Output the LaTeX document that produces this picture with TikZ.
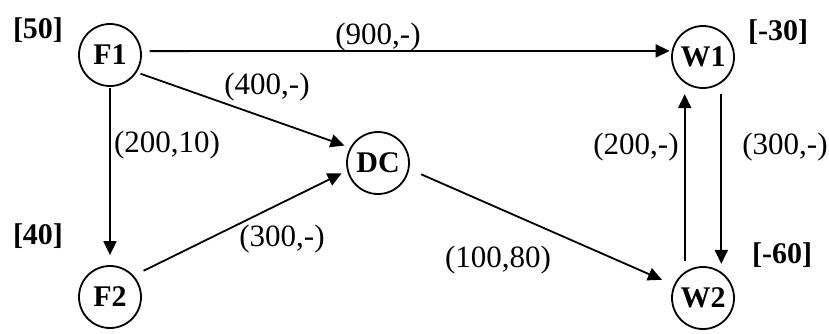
\documentclass[tikz,border=0pt]{standalone}
\usepackage{fontspec}
\setmainfont{Liberation Serif}
\usetikzlibrary{arrows.meta}
\begin{document}
\begin{tikzpicture}[x=1pt,y=-1pt,
  site/.style={circle,draw,line width=1.8pt,minimum size=62pt,inner sep=0pt,
    font=\fontsize{30}{30}\selectfont\bfseries},
  supply/.style={font=\fontsize{30}{30}\selectfont\bfseries},
  cost/.style={font=\fontsize{31}{31}\selectfont},
  flow/.style={line width=1.8pt,-{Triangle[length=14pt,width=13pt]}}]
\useasboundingbox (0,0) rectangle (829,333);

% facilities, distribution centre and warehouses
\node[site] (F1) at (110,55) {F1};
\node[site] (F2) at (110,297) {F2};
\node[site] (DC) at (378,163) {DC};
\node[site] (W1) at (703,57) {W1};
\node[site] (W2) at (703,298) {W2};

% supply / demand
\node[supply] (s1) at (38,30) {[50]};
\node[supply] (s2) at (38,236) {[40]};
\node[supply] (d1) at (778,32) {[-30]};
\node[supply] (d2) at (782,255) {[-60]};

% arcs
\draw[flow,shorten <=8pt,shorten >=2pt] (F1.7) -- (W1.169);
\draw[flow,shorten <=4pt,shorten >=6pt] (F1.-33) -- (DC.151);
\draw[flow,shorten <=1pt,shorten >=10pt] (F1.south) -- (F2.north);
\draw[flow,shorten <=11pt,shorten >=6pt] (F2.42) -- (DC.194);
\draw[flow,shorten <=13pt,shorten >=13pt] (DC.-11) -- (W2.156);
\draw[flow,shorten <=11pt,shorten >=11pt] (W2.125) -- (W1.235);
\draw[flow,shorten <=11pt,shorten >=8pt] (W1.305) -- (W2.55);

% arc labels (cost, capacity)
\node[cost] (c1) at (378,37) {(900,-)};
\node[cost] (c2) at (267,87) {(400,-)};
\node[cost] (c3) at (167,145) {(200,10)};
\node[cost] (c4) at (282,239) {(300,-)};
\node[cost] (c5) at (498,260) {(100,80)};
\node[cost] (c6) at (636,147) {(200,-)};
\node[cost] (c7) at (785,147) {(300,-)};
\end{tikzpicture}
\end{document}
